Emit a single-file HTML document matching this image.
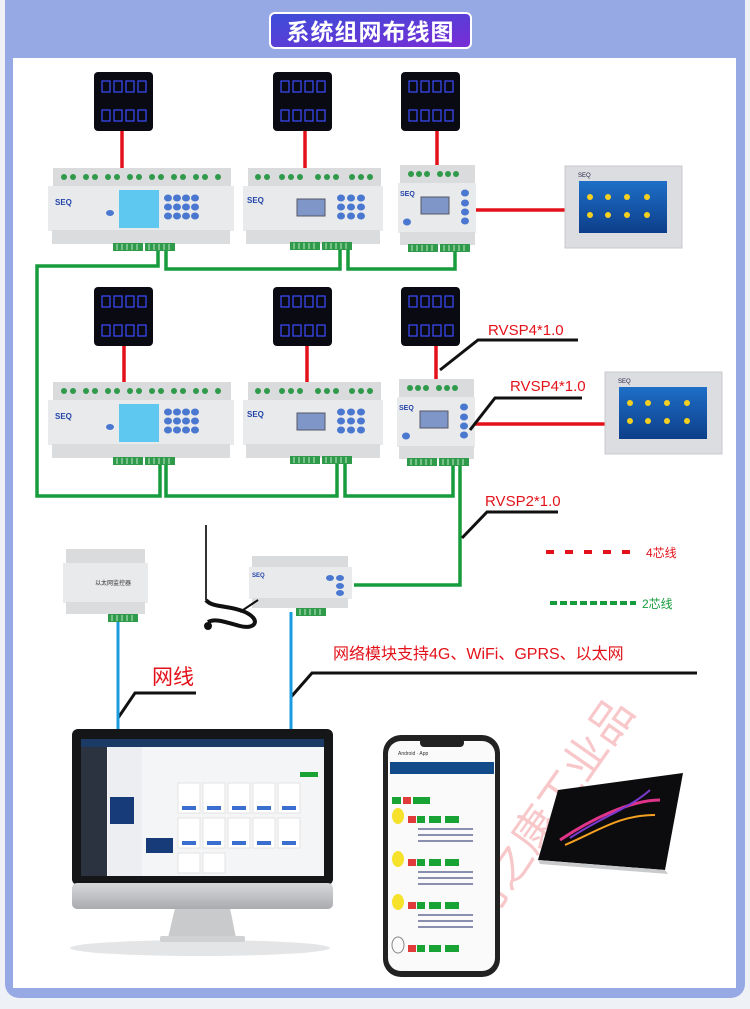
<!DOCTYPE html>
<html><head><meta charset="utf-8"><style>
html,body{margin:0;padding:0;background:#eef1f5;}
svg{display:block;}
text{font-family:"Liberation Sans","Noto Sans CJK SC",sans-serif;}
</style></head><body>
<svg width="750" height="1009" viewBox="0 0 750 1009" xmlns="http://www.w3.org/2000/svg">
<defs>
<linearGradient id="tg" x1="0" y1="0" x2="1" y2="1"><stop offset="0" stop-color="#3a4fd8"/><stop offset="1" stop-color="#7a2bd6"/></linearGradient>
<linearGradient id="scr" x1="0" y1="0" x2="0" y2="1"><stop offset="0" stop-color="#1e6fc8"/><stop offset="1" stop-color="#0d3e8a"/></linearGradient>
<linearGradient id="mon" x1="0" y1="0" x2="0" y2="1"><stop offset="0" stop-color="#d8d9db"/><stop offset="1" stop-color="#a9abae"/></linearGradient>
<g id="sw"><rect x="0" y="0" width="59" height="59" rx="4" fill="#0a0a12"/>
<g fill="none" stroke="#3c4cff" stroke-width="1.2"><rect x="8" y="9" width="8" height="11"/><rect x="20" y="9" width="8" height="11"/><rect x="32" y="9" width="8" height="11"/><rect x="44" y="9" width="8" height="11"/><rect x="8" y="38" width="8" height="11"/><rect x="20" y="38" width="8" height="11"/><rect x="32" y="38" width="8" height="11"/><rect x="44" y="38" width="8" height="11"/></g></g>
<g id="tb"><rect width="30" height="8" fill="#2f9a4a"/><g stroke="#bfe5c8" stroke-width="1"><line x1="4" y1="1" x2="4" y2="7"/><line x1="9" y1="1" x2="9" y2="7"/><line x1="14" y1="1" x2="14" y2="7"/><line x1="19" y1="1" x2="19" y2="7"/><line x1="24" y1="1" x2="24" y2="7"/></g></g>
</defs>
<rect x="0" y="0" width="750" height="1009" fill="#eef1f5"/>
<rect x="5" y="0" width="740" height="998" rx="14" fill="#97a9e4"/>
<rect x="5" y="0" width="740" height="20" fill="#97a9e4"/>
<rect x="13" y="58" width="723" height="930" fill="#ffffff"/>
<rect x="270" y="13" width="201" height="35" rx="5" fill="url(#tg)" stroke="#ffffff" stroke-width="2"/>
<text x="370.5" y="40" font-size="23" font-weight="bold" fill="#fff" text-anchor="middle" style="letter-spacing:1px">系统组网布线图</text>

<text x="560" y="820" font-size="44" fill="#e8474c" fill-opacity="0.3" transform="rotate(-55 560 820)" text-anchor="middle" font-family="Noto Serif CJK SC, serif">河之康工业品</text>

<use href="#sw" x="94" y="72"/><use href="#sw" x="273" y="72"/><use href="#sw" x="401" y="72"/>
<use href="#sw" x="94" y="287"/><use href="#sw" x="273" y="287"/><use href="#sw" x="401" y="287"/>

<g stroke="#e3121a" stroke-width="3.5">
<line x1="122" y1="131" x2="122" y2="176"/><line x1="305" y1="131" x2="305" y2="176"/><line x1="437" y1="131" x2="437" y2="172"/>
<line x1="476" y1="210" x2="565" y2="210"/>
<line x1="124" y1="346" x2="124" y2="388"/><line x1="307" y1="346" x2="307" y2="388"/><line x1="436" y1="346" x2="436" y2="385"/>
<line x1="474" y1="424" x2="605" y2="424"/>
</g>

<g stroke="#169c3c" stroke-width="3.5" fill="none">
<polyline points="158,248 158,266 37,266 37,496 160,496 160,462"/>
<polyline points="166,248 166,269 340,269 340,248"/>
<polyline points="348,248 348,269 455,269 455,248"/>
<polyline points="166,462 166,496 337,496 337,462"/>
<polyline points="345,462 345,496 453,496 453,462"/>
<polyline points="460,462 460,585 354,585"/>
</g>

<g id="m1">
<rect x="53" y="168" width="178" height="20" fill="#d9dbdc"/>
<rect x="48" y="186" width="186" height="45" fill="#e9eaeb"/>
<rect x="52" y="230" width="178" height="14" fill="#dadcdd"/>
<g fill="#2f9a4a"><circle cx="64" cy="177" r="3"/><circle cx="73" cy="177" r="3"/><circle cx="86" cy="177" r="3"/><circle cx="95" cy="177" r="3"/><circle cx="108" cy="177" r="3"/><circle cx="117" cy="177" r="3"/><circle cx="130" cy="177" r="3"/><circle cx="139" cy="177" r="3"/><circle cx="152" cy="177" r="3"/><circle cx="161" cy="177" r="3"/><circle cx="174" cy="177" r="3"/><circle cx="183" cy="177" r="3"/><circle cx="196" cy="177" r="3"/><circle cx="205" cy="177" r="3"/><circle cx="218" cy="177" r="3"/></g>
<rect x="119" y="190" width="40" height="38" fill="#5ec8f0"/>
<text x="55" y="205" font-size="8" font-weight="bold" fill="#2244aa">SEQ</text>
<g fill="#4a78d0"><ellipse cx="168" cy="198" rx="4" ry="3.5"/><ellipse cx="177" cy="198" rx="4" ry="3.5"/><ellipse cx="186" cy="198" rx="4" ry="3.5"/><ellipse cx="195" cy="198" rx="4" ry="3.5"/><ellipse cx="168" cy="207" rx="4" ry="3.5"/><ellipse cx="177" cy="207" rx="4" ry="3.5"/><ellipse cx="186" cy="207" rx="4" ry="3.5"/><ellipse cx="195" cy="207" rx="4" ry="3.5"/><ellipse cx="168" cy="216" rx="4" ry="3.5"/><ellipse cx="177" cy="216" rx="4" ry="3.5"/><ellipse cx="186" cy="216" rx="4" ry="3.5"/><ellipse cx="195" cy="216" rx="4" ry="3.5"/><ellipse cx="110" cy="213" rx="4" ry="3"/></g>
<use href="#tb" x="113" y="243"/><use href="#tb" x="145" y="243"/>
</g>
<use href="#m1" x="0" y="214"/>

<g id="m2">
<rect x="248" y="168" width="133" height="20" fill="#d9dbdc"/>
<rect x="243" y="186" width="140" height="45" fill="#e9eaeb"/>
<rect x="246" y="230" width="134" height="14" fill="#dadcdd"/>
<g fill="#2f9a4a"><circle cx="258" cy="177" r="3"/><circle cx="267" cy="177" r="3"/><circle cx="282" cy="177" r="3"/><circle cx="291" cy="177" r="3"/><circle cx="300" cy="177" r="3"/><circle cx="318" cy="177" r="3"/><circle cx="327" cy="177" r="3"/><circle cx="336" cy="177" r="3"/><circle cx="352" cy="177" r="3"/><circle cx="361" cy="177" r="3"/><circle cx="370" cy="177" r="3"/></g>
<text x="247" y="203" font-size="8" font-weight="bold" fill="#2244aa">SEQ</text>
<rect x="297" y="199" width="28" height="17" fill="#7f97c8" stroke="#556" stroke-width="1"/>
<g fill="#4a78d0"><ellipse cx="341" cy="198" rx="4" ry="3.5"/><ellipse cx="351" cy="198" rx="4" ry="3.5"/><ellipse cx="361" cy="198" rx="4" ry="3.5"/><ellipse cx="341" cy="207" rx="4" ry="3.5"/><ellipse cx="351" cy="207" rx="4" ry="3.5"/><ellipse cx="361" cy="207" rx="4" ry="3.5"/><ellipse cx="341" cy="216" rx="4" ry="3.5"/><ellipse cx="351" cy="216" rx="4" ry="3.5"/><ellipse cx="361" cy="216" rx="4" ry="3.5"/></g>
<use href="#tb" x="290" y="242"/><use href="#tb" x="322" y="242"/>
</g>
<use href="#m2" x="0" y="214"/>

<g id="m3">
<rect x="400" y="165" width="75" height="20" fill="#d9dbdc"/>
<rect x="398" y="183" width="78" height="50" fill="#e9eaeb"/>
<rect x="400" y="232" width="75" height="13" fill="#dadcdd"/>
<g fill="#2f9a4a"><circle cx="411" cy="174" r="3"/><circle cx="419" cy="174" r="3"/><circle cx="427" cy="174" r="3"/><circle cx="440" cy="174" r="3"/><circle cx="448" cy="174" r="3"/><circle cx="456" cy="174" r="3"/></g>
<text x="400" y="196" font-size="7" font-weight="bold" fill="#2244aa">SEQ</text>
<rect x="421" y="197" width="28" height="17" fill="#7f97c8" stroke="#556" stroke-width="1"/>
<g fill="#4a78d0"><ellipse cx="465" cy="193" rx="4" ry="3.5"/><ellipse cx="465" cy="203" rx="4" ry="3.5"/><ellipse cx="465" cy="212" rx="4" ry="3.5"/><ellipse cx="465" cy="221" rx="4" ry="3.5"/><ellipse cx="407" cy="222" rx="4" ry="3.5"/></g>
<use href="#tb" x="408" y="244"/><use href="#tb" x="440" y="244"/>
</g>
<use href="#m3" x="-1" y="214"/>

<g id="tp"><rect x="565" y="166" width="117" height="82" fill="#dcdde0" stroke="#c8c9cc"/>
<text x="578" y="177" font-size="6" fill="#224">SEQ</text>
<rect x="579" y="181" width="88" height="52" fill="url(#scr)"/>
<g fill="#f5d020"><circle cx="590" cy="197" r="3"/><circle cx="608" cy="197" r="3"/><circle cx="627" cy="197" r="3"/><circle cx="647" cy="197" r="3"/><circle cx="590" cy="215" r="3"/><circle cx="608" cy="215" r="3"/><circle cx="627" cy="215" r="3"/><circle cx="647" cy="215" r="3"/></g></g>
<use href="#tp" x="40" y="206"/>

<g stroke="#111" stroke-width="3" fill="none">
<polyline points="440,370 478,340 578,340"/>
<polyline points="470,430 495,398 582,398"/>
<polyline points="462,538 487,512 558,512"/>
<polyline points="118,718 135,693 196,693"/>
<polyline points="291,697 312,673 697,673"/>
</g>
<g fill="#e3121a" font-size="15">
<text x="488" y="335">RVSP4*1.0</text>
<text x="510" y="391">RVSP4*1.0</text>
<text x="485" y="506">RVSP2*1.0</text>
<text x="152" y="684" font-size="21" font-family="Noto Serif CJK SC,serif">网线</text>
<text x="333" y="659" font-size="16" font-family="Noto Serif CJK SC,serif">网络模块支持4G、WiFi、GPRS、以太网</text>
</g>

<line x1="546" y1="552" x2="636" y2="552" stroke="#e3121a" stroke-width="4" stroke-dasharray="8,11"/>
<text x="646" y="557" font-size="12" fill="#e3121a" font-family="Noto Serif CJK SC,serif">4芯线</text>
<line x1="550" y1="603" x2="636" y2="603" stroke="#169c3c" stroke-width="4" stroke-dasharray="7,3"/>
<text x="642" y="608" font-size="12" fill="#169c3c" font-family="Noto Serif CJK SC,serif">2芯线</text>

<rect x="66" y="549" width="79" height="15" fill="#d9dbdc"/>
<rect x="63" y="563" width="85" height="40" fill="#e9eaeb"/>
<rect x="66" y="602" width="79" height="12" fill="#dadcdd"/>
<text x="95" y="585" font-size="6" fill="#333">以太网监控器</text>
<use href="#tb" x="108" y="614"/>
<rect x="252" y="556" width="96" height="12" fill="#d9dbdc"/>
<rect x="249" y="567" width="103" height="32" fill="#e9eaeb"/>
<rect x="252" y="598" width="96" height="10" fill="#dadcdd"/>
<text x="252" y="577" font-size="6" font-weight="bold" fill="#2244aa">SEQ</text>
<g fill="#4a78d0"><ellipse cx="330" cy="578" rx="4" ry="3"/><ellipse cx="340" cy="578" rx="4" ry="3"/><ellipse cx="340" cy="586" rx="4" ry="3"/><ellipse cx="340" cy="593" rx="4" ry="3"/></g>
<use href="#tb" x="296" y="608"/>
<line x1="206" y1="525" x2="206" y2="600" stroke="#333" stroke-width="2"/>
<path d="M206 600 C212 608,230 605,245 612 C262 620,255 630,240 626 C225 622,215 618,208 622" stroke="#111" stroke-width="4" fill="none"/>
<path d="M240 612 L258 600" stroke="#111" stroke-width="2" fill="none"/>
<circle cx="208" cy="626" r="4" fill="#111"/>

<g stroke="#1a9be0" stroke-width="3"><line x1="118" y1="622" x2="118" y2="730"/><line x1="291" y1="612" x2="291" y2="730"/></g>

<ellipse cx="200" cy="948" rx="130" ry="8" fill="#e4e5e7"/>
<polygon points="175,908 230,908 236,938 168,938" fill="#c9cacc"/>
<rect x="160" y="936" width="85" height="6" rx="2" fill="#d0d1d3"/>
<rect x="72" y="729" width="261" height="156" rx="6" fill="#151617"/>
<rect x="72" y="883" width="261" height="26" rx="5" fill="url(#mon)"/>
<rect x="81" y="739" width="243" height="137" fill="#f4f5f7"/>
<rect x="81" y="739" width="243" height="8" fill="#1b3a66"/>
<rect x="81" y="747" width="26" height="129" fill="#2b3340"/>
<rect x="108" y="747" width="34" height="129" fill="#eceef1"/>
<rect x="110" y="797" width="24" height="27" fill="#173a78"/>
<rect x="146" y="838" width="27" height="15" fill="#173a78"/>
<rect x="300" y="772" width="18" height="5" fill="#1aa335"/>
<g fill="#ffffff" stroke="#e3e3e3"><rect x="178" y="783" width="22" height="30"/><rect x="203" y="783" width="22" height="30"/><rect x="228" y="783" width="22" height="30"/><rect x="253" y="783" width="22" height="30"/><rect x="278" y="783" width="22" height="30"/><rect x="178" y="818" width="22" height="30"/><rect x="203" y="818" width="22" height="30"/><rect x="228" y="818" width="22" height="30"/><rect x="253" y="818" width="22" height="30"/><rect x="278" y="818" width="22" height="30"/><rect x="178" y="853" width="22" height="20"/><rect x="203" y="853" width="22" height="20"/></g>
<g fill="#3a6fd0"><rect x="182" y="806" width="14" height="4"/><rect x="207" y="806" width="14" height="4"/><rect x="232" y="806" width="14" height="4"/><rect x="257" y="806" width="14" height="4"/><rect x="282" y="806" width="14" height="4"/><rect x="182" y="841" width="14" height="4"/><rect x="207" y="841" width="14" height="4"/><rect x="232" y="841" width="14" height="4"/><rect x="257" y="841" width="14" height="4"/><rect x="282" y="841" width="14" height="4"/></g>

<rect x="383" y="735" width="117" height="242" rx="18" fill="#222"/>
<rect x="388" y="741" width="107" height="230" rx="13" fill="#fafafa"/>
<rect x="420" y="738" width="44" height="9" rx="4" fill="#222"/>
<rect x="390" y="762" width="104" height="12" fill="#124b8a"/>
<text x="398" y="755" font-size="5" fill="#333">Android · App</text>
<g fill="#1aa335"><rect x="392" y="797" width="9" height="7"/><rect x="413" y="797" width="17" height="7"/><rect x="417" y="816" width="8" height="7"/><rect x="429" y="816" width="12" height="7"/><rect x="445" y="816" width="14" height="7"/><rect x="417" y="859" width="8" height="7"/><rect x="429" y="859" width="12" height="7"/><rect x="445" y="859" width="14" height="7"/><rect x="417" y="902" width="8" height="7"/><rect x="429" y="902" width="12" height="7"/><rect x="445" y="902" width="14" height="7"/><rect x="417" y="945" width="8" height="7"/><rect x="429" y="945" width="12" height="7"/><rect x="445" y="945" width="14" height="7"/></g>
<g fill="#e03a3a"><rect x="403" y="797" width="8" height="7"/><rect x="408" y="816" width="8" height="7"/><rect x="408" y="859" width="8" height="7"/><rect x="408" y="902" width="8" height="7"/><rect x="408" y="945" width="8" height="7"/></g>
<g fill="#f6e22a"><ellipse cx="398" cy="816" rx="6" ry="8"/><ellipse cx="398" cy="859" rx="6" ry="8"/><ellipse cx="398" cy="902" rx="6" ry="8"/></g>
<ellipse cx="398" cy="945" rx="6" ry="8" fill="none" stroke="#888"/>
<g fill="#8a8fb0"><rect x="418" y="828" width="55" height="2"/><rect x="418" y="834" width="55" height="2"/><rect x="418" y="840" width="55" height="2"/><rect x="418" y="871" width="55" height="2"/><rect x="418" y="877" width="55" height="2"/><rect x="418" y="883" width="55" height="2"/><rect x="418" y="914" width="55" height="2"/><rect x="418" y="920" width="55" height="2"/><rect x="418" y="926" width="55" height="2"/></g>

<polygon points="558,790 683,773 665,870 538,860" fill="#0c0c0e"/>
<polygon points="538,860 665,870 668,874 540,864" fill="#c9cacc"/>
<path d="M560 840 C590 820,630 800,660 800" stroke="#e0348a" stroke-width="3" fill="none"/>
<path d="M565 845 C600 830,620 815,655 815" stroke="#f5a020" stroke-width="2" fill="none"/>
<path d="M570 838 C600 818,630 808,650 790" stroke="#7a3ad0" stroke-width="2" fill="none"/>
</svg>
</body></html>
